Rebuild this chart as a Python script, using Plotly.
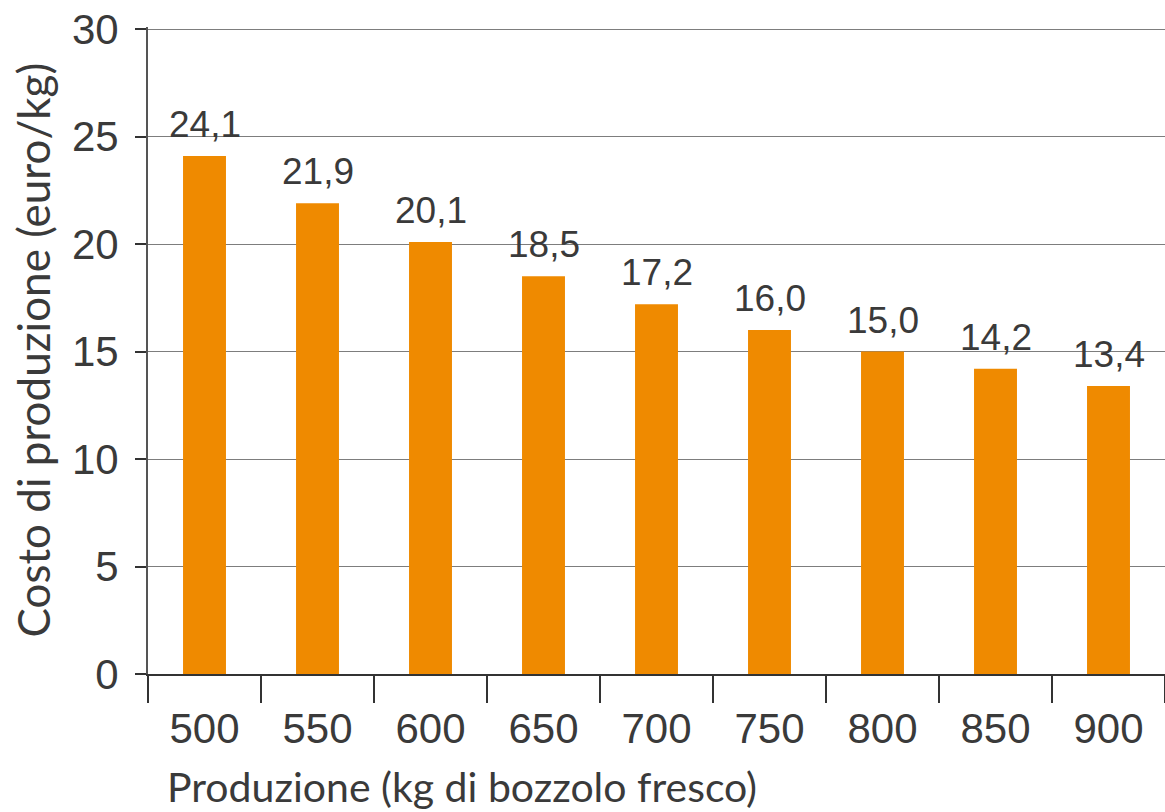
import plotly.graph_objects as go

produzione = ["500", "550", "600", "650", "700", "750", "800", "850", "900"]
costo = [24.1, 21.9, 20.1, 18.5, 17.2, 16.0, 15.0, 14.2, 13.4]
y_ticks = [0, 5, 10, 15, 20, 25, 30]
x_title = "Produzione (kg di bozzolo fresco)"
y_title = "Costo di produzione (euro/kg)"

num_font = "Liberation Sans, Arial, sans-serif"
title_font = "Lato, Open Sans, sans-serif"
txt = "#3a3a3a"

fig = go.Figure(go.Bar(
    x=produzione, y=costo,
    marker=dict(color="#EF8A00", line=dict(width=0)),
    showlegend=False, hoverinfo="skip",
))

# value labels above bars (x given as category index)
for i, yv in enumerate(costo):
    fig.add_annotation(
        x=i, y=yv, xref="x", yref="y",
        text=f"{yv:.1f}".replace(".", ","),
        showarrow=False, yanchor="bottom", yshift=9,
        font=dict(family=num_font, size=37, color=txt),
    )

# axis titles
fig.add_annotation(
    text=x_title, xref="paper", yref="paper", x=0.309, y=0,
    xanchor="center", yanchor="middle", yshift=-112, showarrow=False,
    font=dict(family=title_font, size=41, color=txt),
)
fig.add_annotation(
    text=y_title, xref="paper", yref="paper", x=0, y=0.5,
    xanchor="center", yanchor="middle", xshift=-116, textangle=-90,
    showarrow=False,
    font=dict(family=title_font, size=44, color=txt),
)

fig.update_layout(
    width=1165, height=812,
    margin=dict(l=148, r=0, t=27, b=138),
    paper_bgcolor="white", plot_bgcolor="white",
    bargap=0.62,
    showlegend=False,
)
fig.update_xaxes(
    type="category", tickson="boundaries",
    ticks="outside", ticklen=27, tickwidth=2, tickcolor="#333",
    showline=True, linecolor="#333", linewidth=2,
    tickfont=dict(family=num_font, size=42, color=txt),
    ticklabelstandoff=17,
    showgrid=False, automargin=False,
)
fig.update_yaxes(
    range=[0, 30.1], tickvals=y_ticks,
    ticks="outside", ticklen=11, tickwidth=2, tickcolor="#333",
    showline=True, linecolor="#555", linewidth=2,
    showgrid=True, gridcolor="#7d7d7d", gridwidth=1,
    zeroline=False,
    tickfont=dict(family=num_font, size=42, color=txt),
    ticklabelstandoff=8, ticklabeloverflow="allow",
    automargin=False,
)

fig.write_html(
    "out.html",
    config={"displayModeBar": False},
    post_script="document.body.style.margin='0';document.body.style.overflow='hidden';",
)
